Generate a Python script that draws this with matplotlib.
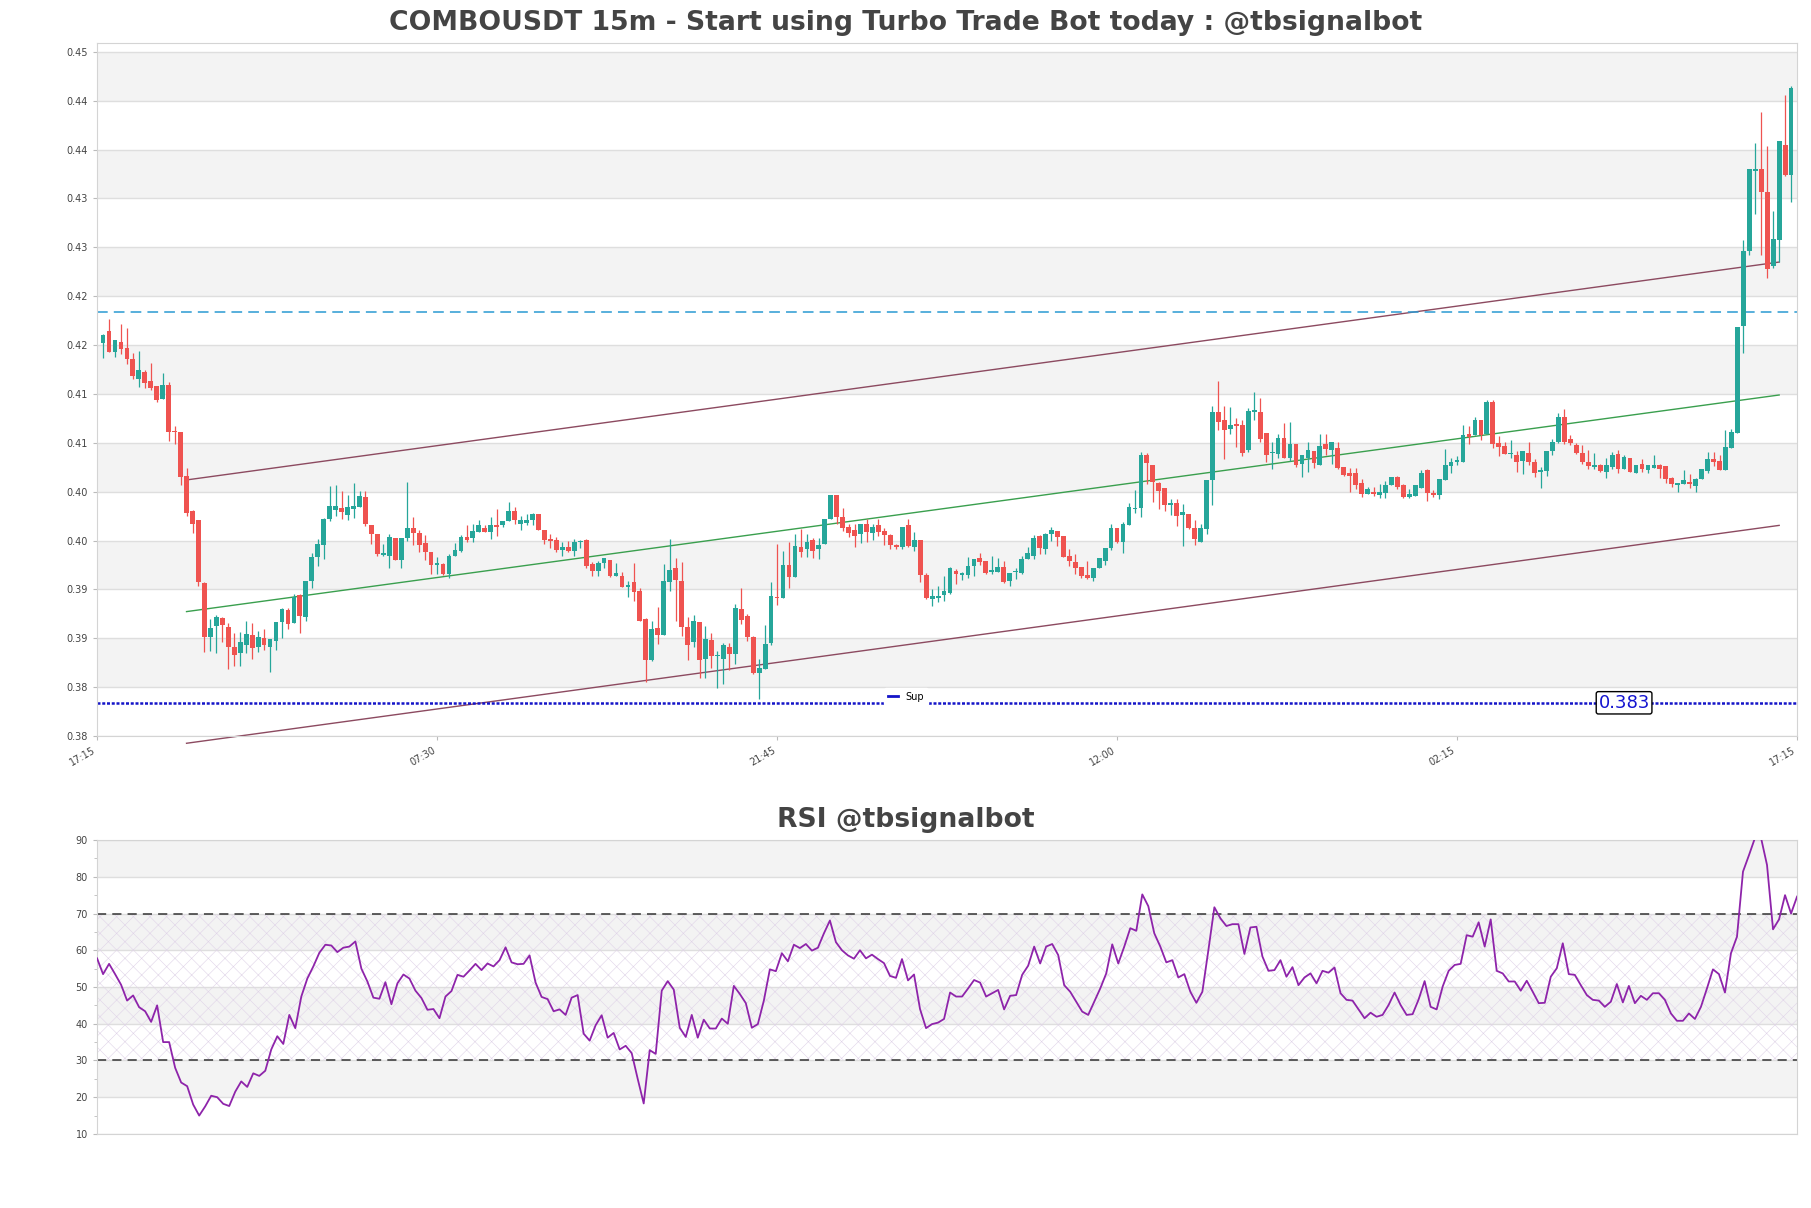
import numpy as np
import matplotlib
matplotlib.use("Agg")
import matplotlib.pyplot as plt
from matplotlib.lines import Line2D

# prices are written in units of 1e-4 (4198.4 -> 0.41984)
opens = [
    4198.4, 4210.3, 4189.2, 4198.7, 4192.6, 4181.7, 4161.0, 4168.8, 4159.3, 4154.2,
    4140.6, 4155.2, 4107.6, 4106.6, 4062.4, 4026.0, 4016.8, 3952.9, 3897.5, 3908.7,
    3917.2, 3908.0, 3886.6, 3880.5, 3889.3, 3899.2, 3887.3, 3895.8, 3887.3, 3893.4,
    3912.8, 3925.0, 3912.1, 3940.0, 3917.9, 3954.6, 3979.1, 3991.3, 4018.5, 4027.0,
    4029.4, 4022.6, 4028.4, 4030.4, 4040.6, 4011.7, 4002.9, 3981.1, 3980.1, 3999.1,
    3976.3, 3998.4, 4008.6, 4003.5, 3993.3, 3983.8, 3971.2, 3972.0, 3961.7, 3979.7,
    3985.5, 4000.1, 3998.4, 4004.9, 4009.3, 4004.9, 4012.0, 4011.7, 4016.1, 4026.3,
    4013.4, 4013.7, 4016.8, 4022.9, 4006.9, 3997.4, 3996.4, 3986.2, 3989.9, 3984.8,
    3994.7, 3996.4, 3971.9, 3965.1, 3972.9, 3976.0, 3959.3, 3960.0, 3948.8, 3953.2,
    3944.7, 3915.8, 3873.3, 3906.6, 3899.2, 3953.9, 3967.8, 3954.2, 3907.3, 3892.0,
    3912.4, 3874.3, 3894.4, 3877.7, 3875.0, 3886.9, 3880.1, 3926.0, 3919.2, 3897.8,
    3860.7, 3864.8, 3891.3, 3938.6, 3936.9, 3970.9, 3958.3, 3989.9, 3987.2, 3996.4,
    3987.2, 3992.3, 4018.5, 4042.3, 4020.5, 4010.3, 4006.9, 4002.5, 4012.7, 4004.2,
    4011.7, 4005.9, 4001.5, 3991.3, 3988.9, 4011.7, 3989.6, 3996.4, 3960.7, 3936.2,
    3937.6, 3940.6, 3942.3, 3965.1, 3961.0, 3961.0, 3970.2, 3978.0, 3974.6, 3964.1,
    3964.1, 3968.5, 3954.9, 3963.4, 3962.7, 3977.0, 3980.4, 4000.8, 3987.2, 4002.5,
    4005.9, 4000.8, 3980.4, 3973.6, 3969.2, 3960.7, 3957.6, 3967.8, 3975.3, 3987.9,
    4008.6, 3994.7, 4012.0, 4028.7, 4029.0, 4083.1, 4072.9, 4055.2, 4049.4, 4032.4,
    4034.1, 4022.2, 4022.9, 4008.6, 3994.7, 4007.6, 4057.9, 4127.6, 4119.8, 4110.6,
    4115.4, 4114.7, 4088.5, 4127.6, 4127.6, 4106.2, 4085.1, 4084.8, 4101.1, 4080.0,
    4094.3, 4074.6, 4080.7, 4087.5, 4073.2, 4094.3, 4088.5, 4090.9, 4071.5, 4065.4,
    4064.7, 4055.2, 4043.3, 4046.0, 4042.6, 4045.0, 4052.8, 4061.0, 4052.5, 4040.6,
    4041.6, 4049.4, 4068.1, 4045.0, 4042.3, 4057.9, 4072.2, 4076.3, 4076.3, 4104.5,
    4103.5, 4119.8, 4104.5, 4137.5, 4096.0, 4092.6, 4084.1, 4083.1, 4077.3, 4085.1,
    4076.3, 4066.4, 4067.1, 4087.5, 4096.7, 4122.2, 4099.4, 4093.6, 4085.8, 4076.3,
    4071.5, 4072.9, 4066.4, 4071.2, 4084.8, 4069.5, 4080.7, 4065.4, 4073.9, 4068.1,
    4070.5, 4073.2, 4072.2, 4059.6, 4052.5, 4053.5, 4056.2, 4051.8, 4059.3, 4067.1,
    4079.0, 4077.3, 4068.1, 4090.9, 4106.2, 4215.5, 4292.3, 4373.6, 4376.3, 4352.5,
    4276.7, 4303.2, 4400.8, 4370.2,
]
highs = [
    4206.9, 4222.2, 4201.1, 4217.4, 4213.0, 4187.5, 4189.9, 4170.5, 4178.0, 4154.2,
    4167.1, 4158.6, 4112.7, 4106.6, 4070.2, 4027.7, 4017.5, 3953.6, 3916.2, 3919.6,
    3918.2, 3911.4, 3901.9, 3902.6, 3913.8, 3912.0, 3903.6, 3905.3, 3895.1, 3913.1,
    3927.4, 3927.4, 3941.0, 3941.0, 3954.6, 3983.5, 3997.1, 4019.2, 4051.5, 4053.2,
    4047.1, 4043.0, 4054.9, 4047.1, 4047.1, 4012.4, 4002.9, 3992.0, 4002.2, 3999.1,
    3998.4, 4056.2, 4020.5, 4006.6, 4001.5, 3983.8, 3978.7, 3973.0, 3982.0, 3993.3,
    4001.5, 4011.7, 4012.7, 4017.1, 4011.7, 4020.5, 4028.7, 4016.1, 4035.5, 4030.7,
    4021.2, 4023.6, 4024.6, 4022.9, 4006.9, 4002.5, 3999.8, 3994.0, 3995.7, 3997.4,
    3996.4, 3998.0, 3973.6, 3975.3, 3978.0, 3976.0, 3972.9, 3964.1, 3954.9, 3972.9,
    3947.4, 3916.5, 3913.4, 3928.4, 3971.9, 3998.0, 3978.0, 3973.6, 3917.5, 3919.9,
    3912.4, 3908.3, 3901.5, 3883.5, 3891.3, 3891.3, 3931.1, 3947.4, 3920.9, 3898.8,
    3875.0, 3910.0, 3953.9, 3992.3, 3985.5, 3995.0, 4002.5, 4007.6, 4002.5, 3999.1,
    3999.1, 4017.8, 4042.3, 4042.3, 4029.0, 4012.7, 4012.7, 4013.4, 4017.8, 4012.7,
    4017.8, 4009.3, 4002.5, 3992.3, 4010.0, 4018.5, 4005.2, 3996.4, 3962.7, 3946.4,
    3949.8, 3959.3, 3968.5, 3966.8, 3964.1, 3978.7, 3977.0, 3983.1, 3974.6, 3980.4,
    3978.0, 3974.6, 3962.4, 3967.5, 3980.4, 3988.9, 4001.5, 4001.5, 4003.5, 4010.0,
    4005.9, 4000.8, 3987.2, 3982.1, 3969.2, 3975.3, 3967.5, 3978.0, 3987.9, 4012.7,
    4008.6, 4015.4, 4034.8, 4047.4, 4086.8, 4085.8, 4072.9, 4056.2, 4049.4, 4038.2,
    4038.9, 4033.8, 4022.9, 4017.1, 4013.4, 4057.6, 4133.4, 4159.6, 4134.1, 4132.7,
    4121.5, 4119.8, 4131.7, 4148.0, 4141.9, 4106.2, 4096.7, 4104.5, 4116.4, 4117.1,
    4094.3, 4083.1, 4096.7, 4087.5, 4104.5, 4104.5, 4096.7, 4096.7, 4071.5, 4070.5,
    4069.8, 4058.6, 4051.1, 4051.1, 4054.2, 4056.9, 4061.3, 4062.0, 4053.5, 4049.1,
    4052.5, 4068.1, 4069.5, 4047.4, 4058.6, 4089.2, 4080.7, 4082.4, 4113.7, 4113.0,
    4122.5, 4119.8, 4140.2, 4140.2, 4102.8, 4096.7, 4098.4, 4087.5, 4087.5, 4096.7,
    4079.0, 4071.5, 4087.5, 4100.1, 4126.6, 4131.0, 4103.8, 4095.3, 4093.6, 4088.5,
    4085.1, 4073.9, 4080.7, 4086.5, 4088.2, 4083.1, 4080.7, 4072.9, 4079.7, 4072.9,
    4083.1, 4073.9, 4072.2, 4061.0, 4055.2, 4067.8, 4063.7, 4060.3, 4069.5, 4086.5,
    4086.5, 4083.1, 4108.9, 4110.3, 4214.3, 4303.9, 4376.3, 4402.5, 4434.8, 4400.1,
    4333.1, 4405.2, 4451.8, 4460.6,
]
lows = [
    4182.4, 4189.2, 4183.4, 4186.5, 4176.3, 4161.0, 4153.5, 4151.8, 4150.1, 4138.2,
    4140.6, 4097.4, 4094.7, 4052.5, 4021.6, 4003.9, 3949.5, 3881.5, 3883.2, 3880.5,
    3891.7, 3864.5, 3867.9, 3867.9, 3880.5, 3874.7, 3881.5, 3883.9, 3861.1, 3883.9,
    3896.8, 3906.0, 3912.1, 3901.9, 3913.8, 3947.8, 3969.9, 3976.7, 4015.8, 4020.9,
    4018.5, 4017.5, 4019.2, 4030.4, 4010.7, 3992.7, 3980.1, 3980.1, 3968.2, 3976.3,
    3967.8, 3995.7, 3991.3, 3984.5, 3976.3, 3961.7, 3961.7, 3960.7, 3957.6, 3979.7,
    3984.5, 3994.0, 3994.0, 4004.9, 4004.9, 3997.4, 4000.8, 4010.0, 4016.1, 4013.4,
    4006.9, 4012.0, 4012.0, 4006.9, 3992.3, 3988.2, 3984.5, 3979.7, 3983.8, 3979.7,
    3988.0, 3967.8, 3960.0, 3960.0, 3967.5, 3958.3, 3959.3, 3948.1, 3937.9, 3934.5,
    3913.4, 3851.2, 3872.3, 3890.3, 3899.2, 3944.7, 3914.1, 3898.8, 3873.3, 3886.9,
    3855.3, 3855.3, 3865.5, 3845.1, 3849.5, 3863.1, 3869.2, 3910.7, 3893.7, 3859.7,
    3834.2, 3864.8, 3889.3, 3930.4, 3936.9, 3947.4, 3958.3, 3978.7, 3978.7, 3977.7,
    3977.0, 3992.3, 4018.5, 4012.7, 4005.9, 4000.1, 3988.9, 3993.0, 3994.7, 3996.7,
    4000.8, 3991.3, 3987.2, 3987.2, 3987.2, 3988.9, 3985.2, 3953.9, 3936.2, 3929.4,
    3933.5, 3934.5, 3941.3, 3951.5, 3955.6, 3957.4, 3960.0, 3971.2, 3961.7, 3961.7,
    3964.1, 3952.2, 3949.8, 3956.6, 3961.7, 3977.0, 3977.0, 3982.1, 3982.1, 3995.7,
    3990.6, 3979.4, 3970.2, 3961.7, 3957.6, 3956.6, 3954.9, 3967.8, 3971.2, 3986.5,
    3993.0, 3982.8, 4012.0, 4024.6, 4020.2, 4054.2, 4035.5, 4028.7, 4026.3, 4021.9,
    4011.0, 3990.8, 4007.6, 3991.6, 3994.7, 4002.5, 4032.1, 4108.6, 4079.0, 4105.2,
    4091.6, 4082.4, 4086.5, 4119.8, 4097.0, 4076.3, 4068.8, 4080.0, 4080.0, 4077.3,
    4071.5, 4061.0, 4066.1, 4070.5, 4073.2, 4083.1, 4073.9, 4068.8, 4062.0, 4046.0,
    4048.4, 4040.6, 4043.3, 4041.6, 4039.9, 4039.9, 4052.8, 4048.4, 4039.9, 4039.9,
    4041.6, 4049.4, 4036.5, 4041.0, 4038.9, 4057.9, 4064.7, 4072.9, 4076.3, 4094.3,
    4103.5, 4098.7, 4104.5, 4090.9, 4082.4, 4084.1, 4080.0, 4066.4, 4063.7, 4072.9,
    4061.0, 4050.1, 4062.0, 4083.1, 4096.0, 4094.3, 4093.6, 4084.1, 4073.9, 4068.8,
    4069.5, 4066.1, 4060.3, 4069.5, 4064.7, 4068.8, 4066.1, 4065.4, 4066.1, 4065.4,
    4070.5, 4059.6, 4055.2, 4051.1, 4046.0, 4053.5, 4050.1, 4046.0, 4059.3, 4065.4,
    4072.2, 4067.8, 4068.1, 4090.9, 4106.2, 4187.6, 4288.0, 4329.7, 4288.0, 4264.1,
    4275.0, 4281.1, 4368.5, 4342.3,
]
closes = [
    4206.2, 4189.2, 4201.1, 4192.3, 4181.7, 4164.4, 4170.5, 4156.9, 4151.8, 4139.9,
    4155.2, 4106.6, 4106.6, 4061.0, 4024.3, 4013.1, 3953.6, 3897.5, 3907.0, 3918.2,
    3909.7, 3886.6, 3879.1, 3891.7, 3900.2, 3885.6, 3897.8, 3889.0, 3895.1, 3913.1,
    3925.7, 3911.1, 3938.6, 3918.9, 3954.6, 3979.1, 3992.7, 4018.5, 4031.8, 4031.1,
    4025.0, 4030.4, 4031.8, 4041.3, 4013.4, 4002.9, 3982.5, 3982.8, 3999.8, 3976.3,
    3998.4, 4008.6, 4003.5, 3991.6, 3984.5, 3971.2, 3972.9, 3961.7, 3979.7, 3986.2,
    4000.1, 3996.7, 4005.9, 4011.7, 4005.2, 4011.7, 4010.0, 4016.1, 4026.3, 4017.1,
    4016.8, 4016.8, 4022.9, 4006.9, 3996.4, 3995.7, 3986.5, 3989.6, 3984.8, 3994.7,
    3995.7, 3970.2, 3965.1, 3972.9, 3978.0, 3960.0, 3962.7, 3948.1, 3950.5, 3943.7,
    3914.1, 3873.3, 3905.6, 3899.8, 3954.2, 3965.8, 3955.9, 3907.3, 3889.3, 3913.4,
    3873.3, 3895.4, 3877.7, 3878.7, 3889.3, 3880.1, 3927.0, 3915.1, 3897.8, 3860.4,
    3865.8, 3890.3, 3939.6, 3936.9, 3970.9, 3959.0, 3990.6, 3984.5, 3994.7, 3985.5,
    3991.3, 4017.8, 4042.3, 4020.2, 4008.6, 4003.5, 4000.8, 4013.4, 4004.9, 4010.3,
    4005.2, 4001.8, 3991.3, 3988.9, 4010.0, 3990.6, 3996.4, 3960.7, 3936.9, 3939.6,
    3939.3, 3944.0, 3967.5, 3961.7, 3962.7, 3969.5, 3977.0, 3974.3, 3962.7, 3965.8,
    3968.5, 3953.9, 3962.4, 3964.4, 3977.0, 3983.1, 3999.1, 3987.9, 4003.2, 4006.6,
    3999.8, 3979.4, 3974.6, 3967.8, 3959.3, 3957.6, 3967.5, 3978.0, 3987.9, 4008.6,
    3994.7, 4012.7, 4030.4, 4029.7, 4083.1, 4075.6, 4056.2, 4046.7, 4032.1, 4034.8,
    4021.2, 4025.3, 4008.6, 3997.4, 4008.6, 4057.6, 4127.3, 4117.1, 4108.6, 4113.7,
    4113.0, 4085.1, 4129.0, 4130.0, 4099.4, 4083.1, 4086.5, 4101.1, 4080.0, 4094.3,
    4072.9, 4083.1, 4088.2, 4075.6, 4092.6, 4089.2, 4096.7, 4069.8, 4063.0, 4062.0,
    4052.8, 4043.3, 4048.4, 4043.3, 4045.7, 4052.5, 4061.3, 4050.8, 4040.9, 4043.3,
    4052.5, 4065.4, 4045.0, 4042.6, 4058.6, 4072.9, 4076.3, 4078.0, 4103.5, 4102.1,
    4119.1, 4103.5, 4137.5, 4095.0, 4091.6, 4084.1, 4085.8, 4076.3, 4087.5, 4076.3,
    4065.4, 4067.8, 4087.5, 4096.7, 4122.2, 4097.0, 4095.3, 4085.8, 4076.3, 4072.2,
    4072.9, 4067.1, 4072.9, 4083.1, 4069.5, 4081.4, 4066.4, 4072.9, 4069.5, 4072.9,
    4072.9, 4068.8, 4059.3, 4053.5, 4054.5, 4058.3, 4053.5, 4059.3, 4068.8, 4079.7,
    4076.3, 4067.8, 4091.9, 4106.9, 4214.3, 4292.3, 4376.3, 4376.3, 4352.5, 4274.3,
    4304.9, 4405.2, 4369.5, 4459.0,
]

rsi = [
    57.8, 53.5, 56.3, 53.5, 50.6, 46.3, 47.7, 44.5, 43.4, 40.5,
    45.0, 35.0, 35.0, 28.0, 24.0, 23.0, 18.0, 15.0, 17.5, 20.4,
    20.0, 18.2, 17.6, 21.5, 24.3, 22.8, 26.5, 25.8, 27.2, 33.0,
    36.6, 34.5, 42.4, 38.8, 47.4, 52.3, 55.6, 59.3, 61.5, 61.3,
    59.5, 60.7, 61.0, 62.4, 55.0, 51.5, 47.1, 46.8, 51.3, 45.3,
    51.0, 53.4, 52.3, 49.0, 47.0, 43.8, 44.0, 41.5, 47.4, 48.9,
    53.3, 52.8, 54.5, 56.3, 54.6, 56.4, 55.6, 57.3, 60.8, 56.7,
    56.2, 56.3, 58.6, 51.2, 47.3, 46.7, 43.4, 43.9, 42.4, 47.1,
    47.8, 37.3, 35.4, 39.6, 42.3, 36.2, 37.5, 33.0, 34.0, 32.0,
    25.0, 18.3, 32.8, 31.8, 49.0, 51.6, 49.3, 38.9, 36.4, 42.4,
    36.2, 41.1, 38.7, 38.7, 41.4, 40.0, 50.3, 48.1, 45.6, 38.9,
    39.9, 46.3, 54.8, 54.3, 59.2, 57.0, 61.5, 60.6, 61.7, 59.9,
    60.7, 64.6, 68.1, 62.2, 60.0, 58.6, 57.7, 60.0, 57.8, 58.8,
    57.6, 56.5, 53.0, 52.5, 57.6, 51.8, 53.4, 44.0, 38.8, 39.9,
    40.3, 41.3, 48.5, 47.4, 47.4, 49.6, 51.9, 51.2, 47.4, 48.3,
    49.2, 43.9, 47.6, 47.8, 53.3, 55.8, 61.0, 56.4, 61.0, 61.7,
    58.7, 50.5, 48.7, 46.0, 43.3, 42.4, 46.0, 49.6, 53.7, 61.6,
    56.4, 61.0, 66.0, 65.3, 75.2, 72.0, 64.6, 61.0, 56.7, 57.3,
    52.6, 53.5, 48.7, 45.7, 48.7, 60.0, 71.7, 68.7, 66.6, 67.1,
    67.1, 59.0, 66.2, 66.4, 58.3, 54.4, 54.6, 57.3, 52.8, 55.4,
    50.5, 52.6, 53.7, 51.0, 54.4, 53.9, 55.3, 48.3, 46.5, 46.3,
    43.9, 41.5, 43.0, 41.9, 42.4, 45.1, 48.5, 45.1, 42.4, 42.6,
    46.6, 51.6, 44.6, 43.9, 50.1, 54.4, 56.0, 56.3, 64.1, 63.7,
    67.6, 61.0, 68.4, 54.4, 53.7, 51.5, 51.5, 49.0, 51.7, 48.7,
    45.6, 45.7, 52.8, 55.1, 61.9, 53.5, 53.3, 50.5, 47.8, 46.5,
    46.3, 44.6, 46.0, 50.8, 45.8, 50.3, 45.6, 47.6, 46.5, 48.3,
    48.3, 46.5, 42.8, 40.8, 40.8, 42.8, 41.3, 44.6, 49.6, 54.8,
    53.5, 48.5, 59.2, 63.7, 81.4, 85.9, 90.6, 90.6, 83.2, 65.7,
    68.4, 75.0, 70.0, 74.6,
]

# channel lines (start / end candle and price)
channel_x = [14, 281]
channel_up = [0.40580, 0.42809]
channel_mid = [0.39233, 0.41449]
channel_low = [0.37886, 0.40115]

resistance = 0.42294
support = 0.383
support_label_x = 255

xtick_labels = ['17:15', '07:30', '21:45', '12:00', '02:15', '17:15']
ytick_vals = [0.3796, 0.3846, 0.3896, 0.3946, 0.3996, 0.4046, 0.4096, 0.4146,
              0.4196, 0.4246, 0.4296, 0.4346, 0.4396, 0.4446, 0.4496]
ytick_labels = ['0.38', '0.38', '0.39', '0.39', '0.40', '0.40', '0.41', '0.41',
                '0.42', '0.42', '0.43', '0.43', '0.44', '0.44', '0.45']
rsi_ticks = [10, 20, 30, 40, 50, 60, 70, 80, 90]

title = 'COMBOUSDT 15m - Start using Turbo Trade Bot today : @tbsignalbot'
rsi_title = 'RSI @tbsignalbot'


def style_axis(ax):
    for s in ax.spines.values():
        s.set_color('#d4d4d4')
    ax.tick_params(colors='#bbbbbb', labelcolor='#444444', labelsize=7, length=3)


def main():
    o = np.array(opens) / 1e4
    h = np.array(highs) / 1e4
    l = np.array(lows) / 1e4
    c = np.array(closes) / 1e4
    x = np.arange(len(c))

    fig = plt.figure(figsize=(18.11, 12.08), dpi=100)
    fig.patch.set_facecolor('white')

    # ---- price panel ----
    ax = fig.add_axes([0.0536, 0.3907, 0.9387, 0.5737])
    style_axis(ax)
    for k in range(1, len(ytick_vals) - 1, 2):
        ax.axhspan(ytick_vals[k], ytick_vals[k + 1], color='#f3f3f3', zorder=0, lw=0)
    for v in ytick_vals:
        ax.axhline(v, color='#dedede', lw=1.0, zorder=0.5)

    up = c >= o
    colors = np.where(up, '#26a69a', '#ef5350')
    body = np.maximum(np.abs(c - o), 0.00006)
    ax.vlines(x, l, h, colors=colors, lw=0.9, zorder=3)
    ax.bar(x, body, bottom=np.minimum(o, c), width=0.8, color=colors, zorder=4, lw=0)

    ax.plot(channel_x, channel_up, color='#8c4a60', lw=1.0, zorder=2)
    ax.plot(channel_x, channel_low, color='#8c4a60', lw=1.0, zorder=2, clip_on=False)
    ax.plot(channel_x, channel_mid, color='#3a9f4e', lw=1.0, zorder=2)

    ax.axhline(resistance, color='#2a9ad2', lw=1.1, ls=(0, (7, 4)), zorder=2)
    ax.axhline(support, color='#1414c8', lw=1.8, ls=(0, (1.2, 0.7)), zorder=2)
    ax.text(support_label_x, support, '0.383', color='#1414d0', fontsize=13,
            ha='center', va='center', zorder=6,
            bbox=dict(boxstyle='round,pad=0.12', fc='white', ec='black', lw=1.0))
    handle = Line2D([], [], color='#1414c8', lw=2)
    ax.legend([handle], ['Sup'], loc='center', bbox_to_anchor=(0.476, 0.057),
              fontsize=7, handlelength=1.0, frameon=True, framealpha=1,
              edgecolor='white', facecolor='white')

    ax.set_xlim(-1, len(c))
    ax.set_ylim(ytick_vals[0], 0.4505)
    ax.set_yticks(ytick_vals)
    ax.set_yticklabels(ytick_labels)
    ax.set_xticks(np.linspace(-1, len(c), len(xtick_labels)))
    ax.set_xticklabels(xtick_labels, rotation=30, ha='right')

    fig.text(0.5, 0.981, title, ha='center', va='center', fontsize=19.2,
             fontweight='bold', color='#444444')

    # ---- RSI panel ----
    ax2 = fig.add_axes([0.0536, 0.0613, 0.9387, 0.2433])
    style_axis(ax2)
    for lo in [20, 40, 60, 80]:
        ax2.axhspan(lo, lo + 10, color='#f3f3f3', zorder=0, lw=0)
    for v in rsi_ticks:
        ax2.axhline(v, color='#dedede', lw=1.0, zorder=0.5)
    plt.rcParams['hatch.linewidth'] = 0.4
    ax2.fill_between(x, 30, 70, facecolor='none', edgecolor='#e0d4e8',
                     hatch='xx', lw=0, zorder=1)
    ax2.axhline(70, color='#333333', lw=1.1, ls=(0, (6, 4)), zorder=2)
    ax2.axhline(30, color='#333333', lw=1.1, ls=(0, (6, 4)), zorder=2)
    ax2.plot(x, rsi, color='#8e24aa', lw=1.3, zorder=3)
    ax2.set_xlim(0, len(c) - 1)
    ax2.set_ylim(10, 90)
    ax2.set_yticks(rsi_ticks)
    ax2.set_yticks(np.arange(15, 90, 10), minor=True)
    ax2.tick_params(which='minor', length=2, colors='#bbbbbb')
    ax2.set_xticks([])

    fig.text(0.5, 0.3212, rsi_title, ha='center', va='center', fontsize=19.2,
             fontweight='bold', color='#444444')

    fig.savefig('out.png', dpi=100, facecolor='white')


if __name__ == "__main__":
    main()
